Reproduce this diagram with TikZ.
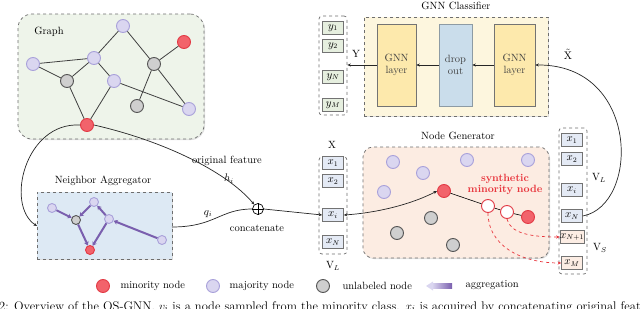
\documentclass[tikz,border=0pt]{standalone}
\usetikzlibrary{arrows.meta,shadows,calc}
\definecolor{majf}{HTML}{DAD6F0}
\definecolor{majd}{HTML}{A9A1DA}
\definecolor{minf}{HTML}{F2636B}
\definecolor{mind}{HTML}{E23A45}
\definecolor{unlf}{HTML}{CFCFCF}
\definecolor{unld}{HTML}{555555}
\definecolor{dash}{HTML}{6E6E6E}
\definecolor{graphbg}{HTML}{EEF4EA}
\definecolor{aggbg}{HTML}{DDE9F4}
\definecolor{genbg}{HTML}{FCECE2}
\definecolor{clsbg}{HTML}{FDF6DE}
\definecolor{gnnf}{HTML}{FDE9AC}
\definecolor{dropf}{HTML}{CADDEB}
\definecolor{xcell}{HTML}{E4EAF5}
\definecolor{ycell}{HTML}{E6EFDF}
\definecolor{scell}{HTML}{FCEDE4}
\definecolor{aggr}{HTML}{7A5FAE}
\definecolor{synred}{HTML}{E8343C}
\begin{document}
\begin{tikzpicture}[x=1pt,y=-1pt,
  font=\fontsize{10.5}{12}\selectfont,
  maj/.style={circle,minimum size=13pt,inner sep=0pt,fill=majf,draw=majd,line width=0.9pt},
  minn/.style={circle,minimum size=13pt,inner sep=0pt,fill=minf,draw=mind,line width=0.9pt},
  unl/.style={circle,minimum size=13pt,inner sep=0pt,fill=unlf,draw=unld,line width=0.9pt},
  syn/.style={circle,minimum size=13pt,inner sep=0pt,fill=white,draw=mind,line width=0.9pt},
  sm/.style={minimum size=9pt},
  edge/.style={draw=black!75,line width=0.8pt},
  agg/.style={draw=aggr,line width=2pt,-{Stealth[length=4pt,width=5pt]}},
  dbox/.style={draw=dash,dashed,line width=0.7pt,inner sep=0pt},
  col/.style={dbox,rounded corners=3pt,fill=white},
  cell/.style={draw=black!55,line width=0.6pt,minimum width=21pt,minimum height=13pt,inner sep=0pt,
    drop shadow={shadow xshift=0.7pt,shadow yshift=-0.7pt,opacity=0.35}},
  layer/.style={draw=black!55,line width=0.6pt,minimum height=82pt,inner sep=0pt,align=center},
  arr/.style={draw=black!85,line width=0.7pt,-{Stealth[length=3.5pt,width=3pt]}},
]
\useasboundingbox (0,0) rectangle (640,308);

% ---------- Graph ----------
\node[dbox,rounded corners=14pt,fill=graphbg,minimum width=186pt,minimum height=125pt,
  drop shadow={shadow xshift=1pt,shadow yshift=-1pt,opacity=0.25}] (graph) at (111,76.5) {};
\node (graphlbl) at (49,32) {Graph};
\node[maj] (gA) at (123,26) {};
\node[minn] (gB) at (184,42) {};
\node[maj] (gC) at (33,64) {};
\node[maj] (gD) at (94,58) {};
\node[unl] (gE) at (154,64) {};
\node[unl] (gF) at (67,81) {};
\node[maj] (gG) at (114,81) {};
\node[unl] (gH) at (137,106) {};
\node[maj] (gI) at (189,109) {};
\node[minn] (gJ) at (87,125) {};
\draw[edge] (gC) -- (gD);
\draw[edge] (gC) -- (gF);
\draw[edge] (gF) -- (gD);
\draw[edge] (gD) -- (gA);
\draw[edge] (gA) -- (gE);
\draw[edge] (gE) -- (gB);
\draw[edge] (gD) -- (gG);
\draw[edge] (gF) -- (gJ);
\draw[edge] (gG) -- (gJ);
\draw[edge] (gG) -- (gI);
\draw[edge] (gE) -- (gH);
\draw[edge] (gE) -- (gI);

% ---------- Neighbor Aggregator ----------
\node[dbox,fill=aggbg,minimum width=135pt,minimum height=67pt,
  drop shadow={shadow xshift=1pt,shadow yshift=-1pt,opacity=0.25}] (aggbox) at (104.5,225.5) {};
\node (agglbl) at (103,181) {Neighbor Aggregator};
\node[maj,sm] (a1) at (52,208) {};
\node[unl,sm] (a2) at (76,220) {};
\node[maj,sm] (a3) at (94,202) {};
\node[maj,sm] (a4) at (109,219) {};
\node[minn,sm] (a5) at (90,250) {};
\node[maj,sm] (a6) at (162,240) {};
\draw[agg] (a1) -- (a2);
\draw[agg] (a3) -- (a2);
\draw[agg] (a4) -- (a3);
\draw[agg] (a2) -- (a5);
\draw[agg] (a4) -- (a5);
\draw[agg] (a6) -- (a4);

% ---------- concatenation ----------
\node[circle,draw=black,line width=0.7pt,minimum size=11pt,inner sep=0pt,fill=white] (cat) at (258,209) {};
\draw[line width=0.7pt] (cat.north) -- (cat.south) (cat.west) -- (cat.east);
\node (catlbl) at (257,228) {concatenate};
\node (origlbl) at (227,161) {original feature};
\node (hlbl) at (229,179) {$h_i$};
\node (qlbl) at (208,214) {$q_i$};
\coordinate (aggin) at (37,226);
\coordinate (aggout) at (172,227);
\draw[arr] (gJ.west) .. controls (25,122) and (5,205) .. (aggin);
\draw[arr] (gJ.east) .. controls (160,140) and (225,170) .. (cat);
\draw[arr,-] (aggout) .. controls (215,227) and (220,209) .. (cat.west);

% ---------- X column ----------
\node[col,minimum width=28pt,minimum height=97pt] (Xcol) at (333,205.5) {};
\node (Xlbl) at (332,145) {X};
\node[cell,fill=xcell] (x1) at (333,163) {$x_1$};
\node[cell,fill=xcell] (x2) at (333,181) {$x_2$};
\node[cell,fill=xcell] (xi) at (333,215) {$x_i$};
\node[cell,fill=xcell] (xN) at (333,242) {$x_N$};
\node (VL1) at (333,266) {V$_L$};
\draw[arr] (cat.east) -- (xi.west);

% ---------- Node Generator ----------
\node[dbox,rounded corners=10pt,fill=genbg,minimum width=186pt,minimum height=111pt,
  drop shadow={shadow xshift=1pt,shadow yshift=-1pt,opacity=0.25}] (gen) at (456,202.5) {};
\node (genlbl) at (458,136) {Node Generator};
\node[maj] (n1) at (393,162) {};
\node[maj] (n2) at (423,173) {};
\node[maj] (n3) at (467,160) {};
\node[maj] (n4) at (528,160) {};
\node[maj] (n5) at (384,192) {};
\node[minn] (nr) at (444,191) {};
\node[unl] (n6) at (431,218) {};
\node[unl] (n7) at (397,233) {};
\node[unl] (n8) at (453,245) {};
\node[syn] (w1) at (488,206) {};
\node[syn] (w2) at (507,212) {};
\node[minn] (nr2) at (528,217) {};
\node[text=synred,font=\fontsize{10.5}{11}\selectfont\bfseries,align=center] (synlbl) at (505,184) {synthetic\\minority node};
\draw[line width=0.6pt] (nr) -- (w1) -- (w2) -- (nr2);
\draw[arr,{Stealth[length=3.5pt,width=3pt]}-{Stealth[length=3.5pt,width=3pt]}] (xi.east) .. controls (375,213) and (410,205) .. (nr.west);

% ---------- V column ----------
\node[col,minimum width=28pt,minimum height=146pt] (Vcol) at (573,201) {};
\node[cell,fill=xcell] (v1) at (572,140) {$x_1$};
\node[cell,fill=xcell] (v2) at (572,159) {$x_2$};
\node[cell,fill=xcell] (vi) at (572,190) {$x_i$};
\node[cell,fill=xcell] (vN) at (572,216) {$x_N$};
\node[cell,fill=scell] (vN1) at (572,237) {$x_{N+1}$};
\node[cell,fill=scell] (vM) at (572,263) {$x_M$};
\node (VL2) at (599,178) {V$_L$};
\node (VS) at (600,248) {V$_S$};
\draw[draw=synred,dashed,line width=0.7pt,-{Stealth[length=3.5pt,width=3pt]}] (w1.south) .. controls (488,245) and (520,263) .. (vM.west);
\draw[draw=synred,dashed,line width=0.7pt,-{Stealth[length=3.5pt,width=3pt]}] (w2.south) .. controls (510,233) and (530,237) .. (vN1.west);

% ---------- GNN Classifier ----------
\node[dbox,fill=clsbg,minimum width=184pt,minimum height=99pt,
  drop shadow={shadow xshift=1pt,shadow yshift=-1pt,opacity=0.25}] (cls) at (456,66.5) {};
\node (clslbl) at (456,6) {GNN Classifier};
\node[layer,fill=gnnf,minimum width=39pt,text=black!75] (gnn1) at (396.5,65) {GNN\\layer};
\node[layer,fill=dropf,minimum width=33pt,draw=dropf!70!black,text=black!75] (drop) at (455.5,65) {drop\\out};
\node[layer,fill=gnnf,minimum width=41pt,text=black!75] (gnn2) at (514.5,65) {GNN\\layer};
\node[col,minimum width=28pt,minimum height=99pt] (Ycol) at (333,65.5) {};
\node[cell,fill=ycell] (y1) at (333,28) {$y_1$};
\node[cell,fill=ycell] (y2) at (333,46) {$y_2$};
\node[cell,fill=ycell] (yN) at (333,77) {$y_N$};
\node[cell,fill=ycell] (yM) at (333,105) {$y_M$};
\node (Ylbl) at (356,54) {Y};
\node[inner sep=1pt] (Xtlbl) at (568,54) {$\tilde{\mathrm{X}}$};
\draw[arr] (gnn2.west) -- (drop.east);
\draw[arr] (drop.west) -- (gnn1.east);
\draw[arr] (gnn1.west) -- (Ycol.east |- gnn1.west);
\draw[arr] (vN.east) .. controls (640,205) and (640,64) .. (gnn2.east);

% ---------- legend ----------
\node[minn] (lg1) at (103,286) {};
\node[anchor=west] (lt1) at (117,286) {minority node};
\node[maj] (lg2) at (213,286) {};
\node[anchor=west] (lt2) at (226,286) {majority node};
\node[unl] (lg3) at (323,286) {};
\node[anchor=west] (lt3) at (339,286) {unlabeled node};
\shade[left color=majf,right color=aggr] (432,283.5) rectangle (452,288.5);
\fill[majf] (426,286) -- (433,281.5) -- (433,290.5) -- cycle;
\node[anchor=west] (lt4) at (462,285) {aggregation};

% ---------- caption (cut off by the page edge, as in the reference) ----------
\node[anchor=base west,inner sep=0pt,font=\fontsize{12.5}{14}\selectfont] (cap) at (-1,310)
  {2: Overview of the OS-GNN. $v_i$ is a node sampled from the minority class. $x_i$ is acquired by concatenating original features};
\end{tikzpicture}
\end{document}
